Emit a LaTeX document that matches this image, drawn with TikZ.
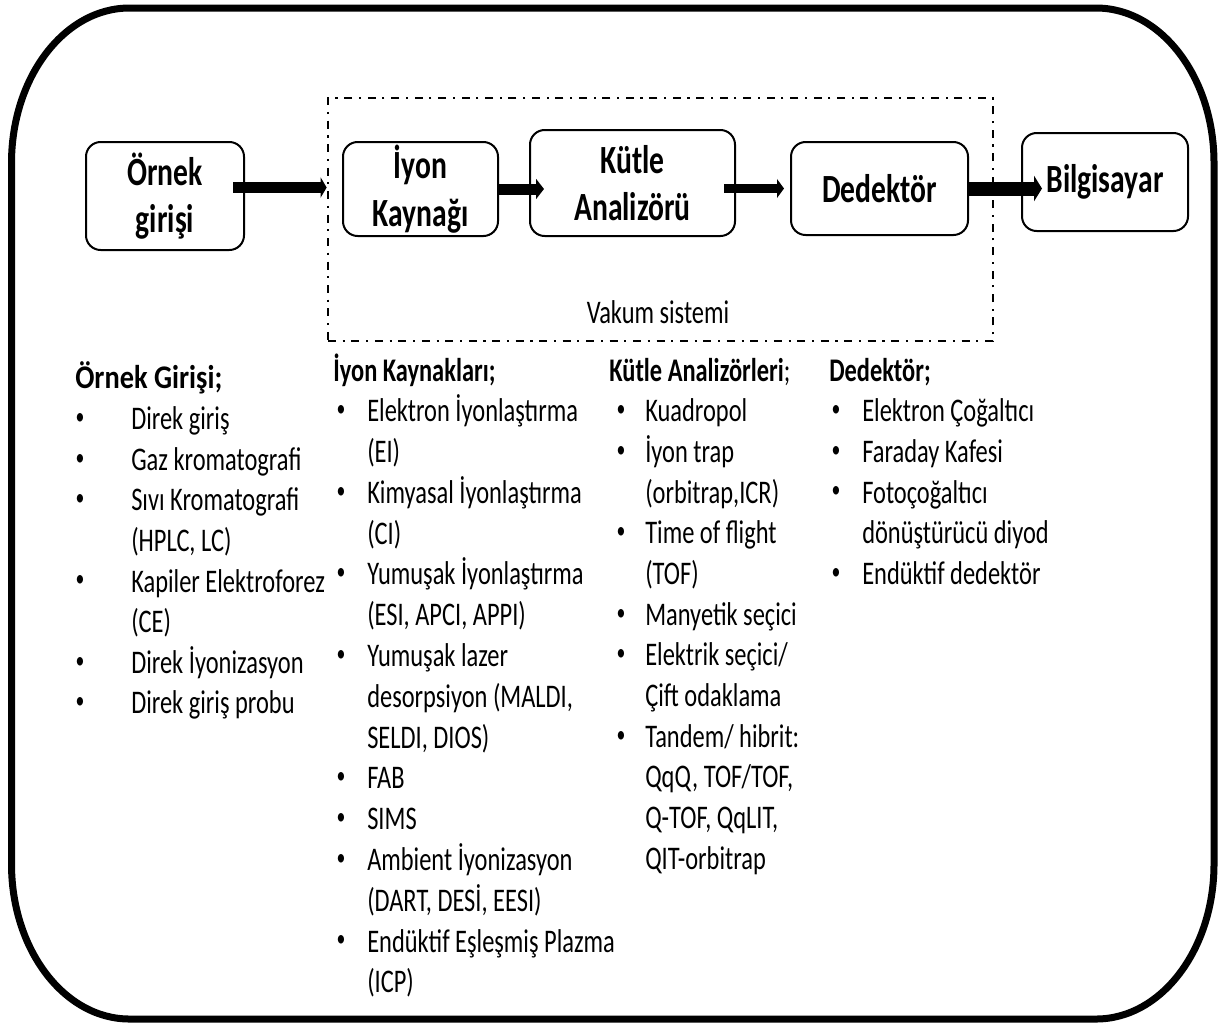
\documentclass[tikz,border=0pt]{standalone}
\usepackage{fontspec}
\setmainfont{Carlito}[FakeStretch=0.74]
\newfontfamily\wideff{Carlito}[FakeStretch=0.86]
\usetikzlibrary{arrows.meta}
\newcommand\lfont{\fontsize{24.75pt}{30pt}\selectfont}
\newcommand\bfont{\fontsize{30pt}{35.5pt}\selectfont\bfseries}
\newcommand\bitem[5]{\node[bul] (#1b) at (#2,#4) {•}; \node[li] (#1) at (#3,#4) {#5};}
\begin{document}
\begin{tikzpicture}[x=0.75pt,y=-0.75pt,
  box/.style={draw, line width=1.5pt, rounded corners=11pt, align=center, font=\bfont, inner sep=0pt},
  vacbox/.style={draw, line width=2pt, dash pattern=on 6pt off 5pt on 1.6pt off 5pt, inner sep=0pt},
  li/.style={anchor=west, inner sep=0pt, font=\lfont, text height=16pt, text depth=0pt},
  hd/.style={anchor=west, inner sep=0pt, font=\lfont\bfseries, text height=16pt, text depth=0pt},
  bul/.style={inner sep=0pt, font=\fontsize{18pt}{20pt}\selectfont},
]
\useasboundingbox (0,0) rectangle (1219,1026);
% outer frame
\draw[line width=5.25pt, line join=round]
  (129.5,8) -- (1096,8) .. controls (1161.2,8) and (1214,77.4) .. (1214,163)
  -- (1214,864) .. controls (1214,949.6) and (1161.2,1019) .. (1096,1019)
  -- (129.5,1019) .. controls (64.3,1019) and (11.5,949.6) .. (11.5,864)
  -- (11.5,163) .. controls (11.5,77.4) and (64.3,8) .. cycle;
% vacuum system
\node[vacbox, minimum width=498.75pt, minimum height=182.25pt] (vac) at (660.5,219.5) {};
\node[font=\lfont, inner sep=0pt] (vact) at (658,312) {Vakum sistemi};
% boxes
\node[box, minimum width=118.5pt, minimum height=81pt] (orn) at (165,196) {Örnek\\girişi};
\node[box, minimum width=116.25pt, minimum height=70.5pt] (iyon) at (420.5,189) {İyon\\Kaynağı};
\node[box, minimum width=153.75pt, minimum height=79.5pt] (kutle) at (632.5,183) {Kütle\\Analizörü};
\node[box, minimum width=132.75pt, minimum height=69.75pt] (ded) at (879.5,188.5) {Dedektör};
\node[box, minimum width=124.5pt, minimum height=73.5pt] (bil) at (1105,182) {Bilgisayar};
% arrows
\coordinate (a1s) at ([shift={(-12,-8.5)}]orn.east);
\draw[line width=8.25pt, -{Triangle[length=4.5pt,width=15pt]}] (a1s) -- (vac.west |- a1s);
\coordinate (a2e) at ([xshift=11.25pt]kutle.west);
\draw[line width=8.25pt, -{Triangle[length=6pt,width=15pt]}] (iyon.east) -- (a2e |- iyon.east);
\coordinate (a3s) at ([xshift=-9pt]kutle.east);
\coordinate (a3e) at ([xshift=-4.5pt]ded.west);
\draw[line width=7pt, -{Triangle[length=5.25pt,width=14pt]}] (a3s |- ded.west) -- (a3e);
\coordinate (a4e) at ([xshift=15.75pt]bil.west);
\draw[line width=10.5pt, -{Triangle[length=6pt,width=19pt]}] (ded.east) -- (a4e |- ded.east);
% column 1
\node[hd, font=\lfont\wideff\bfseries] (h1) at (75,378) {Örnek Girişi;};
\bitem{c1a}{80}{131}{419}{Direk giriş}
\bitem{c1b}{80}{131}{459.6}{Gaz kromatografi}
\bitem{c1c}{80}{131}{500.2}{Sıvı Kromatografi}
\node[li] (c1d) at (131,540.8) {(HPLC, LC)};
\bitem{c1e}{80}{131}{581.4}{Kapiler Elektroforez}
\node[li] (c1f) at (131,622) {(CE)};
\bitem{c1g}{80}{131}{662.6}{Direk İyonizasyon}
\bitem{c1h}{80}{131}{703.2}{Direk giriş probu}
% column 2
\node[hd] (h2) at (333,371) {İyon Kaynakları;};
\bitem{c2a}{341}{367}{411}{Elektron İyonlaştırma}
\node[li] (c2b) at (367,451.8) {(EI)};
\bitem{c2c}{341}{367}{492.6}{Kimyasal İyonlaştırma}
\node[li] (c2d) at (367,533.4) {(CI)};
\bitem{c2e}{341}{367}{574.2}{Yumuşak İyonlaştırma}
\node[li] (c2f) at (367,615) {(ESI, APCI, APPI)};
\bitem{c2g}{341}{367}{655.8}{Yumuşak lazer}
\node[li] (c2h) at (367,696.6) {desorpsiyon (MALDI,};
\node[li] (c2i) at (367,737.4) {SELDI, DIOS)};
\bitem{c2j}{341}{367}{778.2}{FAB}
\bitem{c2k}{341}{367}{819}{SIMS}
\bitem{c2l}{341}{367}{859.8}{Ambient İyonizasyon}
\node[li] (c2m) at (367,900.6) {(DART, DESİ, EESI)};
\bitem{c2n}{341}{367}{941.4}{Endüktif Eşleşmiş Plazma}
\node[li] (c2o) at (367,982.2) {(ICP)};
% column 3
\node[hd] (h3) at (609,371) {Kütle Analizörleri\mdseries;};
\bitem{c3a}{621}{645}{411}{Kuadropol}
\bitem{c3b}{621}{645}{451.7}{İyon trap}
\node[li] (c3c) at (645,492.4) {(orbitrap,ICR)};
\bitem{c3d}{621}{645}{533.1}{Time of flight}
\node[li] (c3e) at (645,573.8) {(TOF)};
\bitem{c3f}{621}{645}{614.5}{Manyetik seçici}
\bitem{c3g}{621}{645}{655.2}{Elektrik seçici/}
\node[li] (c3h) at (645,695.9) {Çift odaklama};
\bitem{c3i}{621}{645}{736.6}{Tandem/ hibrit:}
\node[li] (c3j) at (645,777.3) {QqQ, TOF/TOF,};
\node[li] (c3k) at (645,818) {Q-TOF, QqLIT,};
\node[li] (c3l) at (645,858.7) {QIT-orbitrap};
% column 4
\node[hd] (h4) at (829,371) {Dedektör;};
\bitem{c4a}{836}{862}{411}{Elektron Çoğaltıcı}
\bitem{c4b}{836}{862}{451.7}{Faraday Kafesi}
\bitem{c4c}{836}{862}{492.4}{Fotoçoğaltıcı}
\node[li] (c4d) at (862,533.1) {dönüştürücü diyod};
\bitem{c4e}{836}{862}{573.8}{Endüktif dedektör}
\end{tikzpicture}
\end{document}
